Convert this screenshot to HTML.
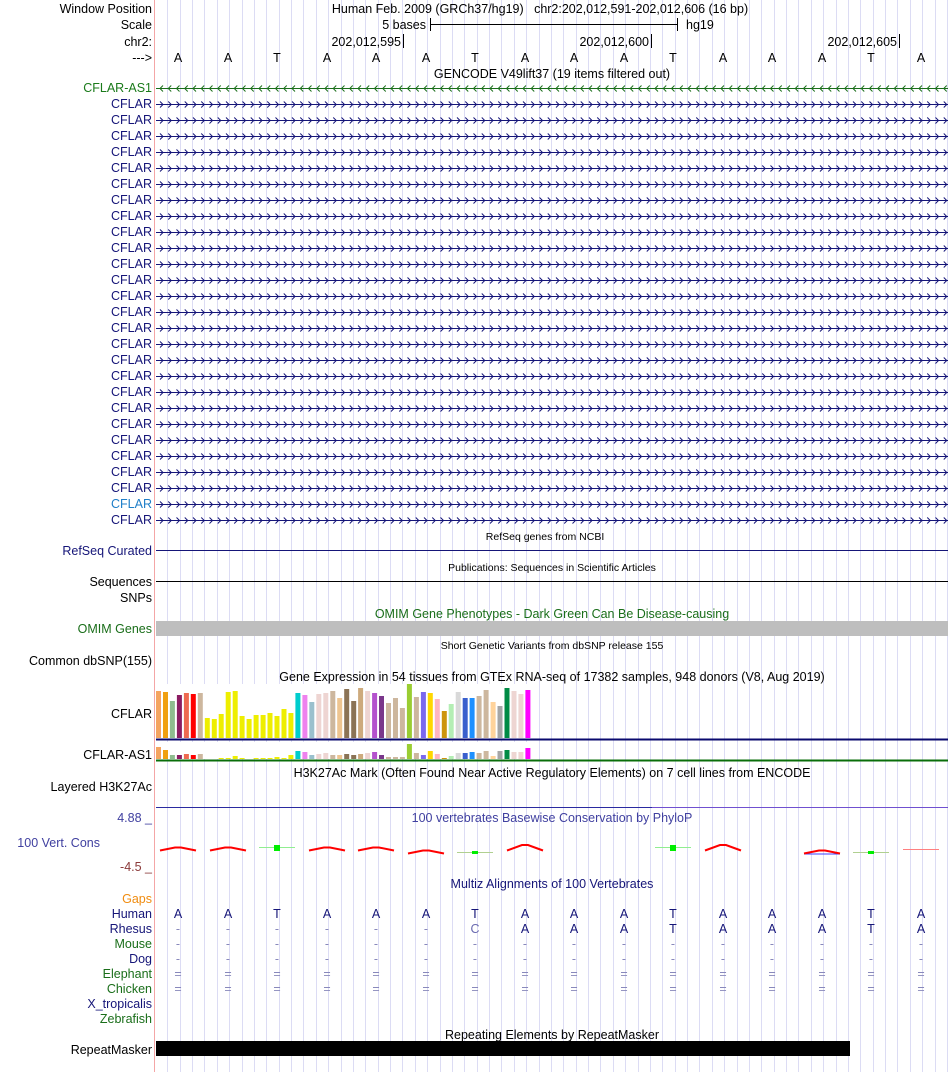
<!DOCTYPE html>
<html><head><meta charset="utf-8"><style>
html,body{margin:0;padding:0;background:#fff;}
svg{display:block;font-family:"Liberation Sans",Arial,sans-serif;}
</style></head><body>
<svg id="s" width="950" height="1072" viewBox="0 0 950 1072" xmlns="http://www.w3.org/2000/svg">
<g id="grid"></g>
<line x1="154.5" y1="0" x2="154.5" y2="1072" stroke="#f4a6a6" stroke-width="1"/>
<g font-size="12.5" fill="#000" text-anchor="end">
<text x="152" y="13">Window Position</text>
<text x="152" y="29">Scale</text>
<text x="152" y="46">chr2:</text>
<text x="152" y="62">---&gt;</text>
</g>
<text x="540" y="13" font-size="12.5" text-anchor="middle">Human Feb. 2009 (GRCh37/hg19)&#160;&#160;&#160;chr2:202,012,591-202,012,606 (16 bp)</text>
<text x="426" y="29" font-size="12.5" text-anchor="end">5 bases</text>
<line x1="430" y1="24.5" x2="677" y2="24.5" stroke="#000"/>
<line x1="430.5" y1="18" x2="430.5" y2="31" stroke="#000"/>
<line x1="677.5" y1="18" x2="677.5" y2="31" stroke="#000"/>
<text x="686" y="29" font-size="12.5">hg19</text>
<g font-size="12.5" text-anchor="end">
<text x="401" y="46">202,012,595</text>
<text x="649" y="46">202,012,600</text>
<text x="897" y="46">202,012,605</text>
</g>
<g stroke="#000"><line x1="403.5" y1="34" x2="403.5" y2="48"/><line x1="651.5" y1="34" x2="651.5" y2="48"/><line x1="899.5" y1="34" x2="899.5" y2="48"/></g>
<g font-size="12.5" text-anchor="middle">
<text x="178" y="62">A</text><text x="228" y="62">A</text><text x="277" y="62">T</text><text x="327" y="62">A</text><text x="376" y="62">A</text><text x="426" y="62">A</text><text x="475" y="62">T</text><text x="525" y="62">A</text><text x="574" y="62">A</text><text x="624" y="62">A</text><text x="673" y="62">T</text><text x="723" y="62">A</text><text x="772" y="62">A</text><text x="822" y="62">A</text><text x="871" y="62">T</text><text x="921" y="62">A</text>
</g>
<text x="552" y="78" font-size="12.5" text-anchor="middle">GENCODE V49lift37 (19 items filtered out)</text>
<g font-size="12.5" text-anchor="end" fill="#151578">
<text x="152" y="92" fill="#1a7a1a">CFLAR-AS1</text>
<text x="152" y="108">CFLAR</text><text x="152" y="124">CFLAR</text><text x="152" y="140">CFLAR</text><text x="152" y="156">CFLAR</text><text x="152" y="172">CFLAR</text><text x="152" y="188">CFLAR</text><text x="152" y="204">CFLAR</text><text x="152" y="220">CFLAR</text><text x="152" y="236">CFLAR</text><text x="152" y="252">CFLAR</text><text x="152" y="268">CFLAR</text><text x="152" y="284">CFLAR</text><text x="152" y="300">CFLAR</text><text x="152" y="316">CFLAR</text><text x="152" y="332">CFLAR</text><text x="152" y="348">CFLAR</text><text x="152" y="364">CFLAR</text><text x="152" y="380">CFLAR</text><text x="152" y="396">CFLAR</text><text x="152" y="412">CFLAR</text><text x="152" y="428">CFLAR</text><text x="152" y="444">CFLAR</text><text x="152" y="460">CFLAR</text><text x="152" y="476">CFLAR</text><text x="152" y="492">CFLAR</text><text x="152" y="508" fill="#1e7ec8">CFLAR</text><text x="152" y="524">CFLAR</text>
</g>
<g id="genes"></g>
<text x="545" y="540" font-size="10.5" text-anchor="middle">RefSeq genes from NCBI</text>
<text x="152" y="555" font-size="12.5" text-anchor="end" fill="#151578">RefSeq Curated</text>
<line x1="156" y1="550.5" x2="948" y2="550.5" stroke="#151578"/>
<text x="552" y="571" font-size="10.5" text-anchor="middle">Publications: Sequences in Scientific Articles</text>
<text x="152" y="586" font-size="12.5" text-anchor="end">Sequences</text>
<line x1="156" y1="581.5" x2="948" y2="581.5" stroke="#000"/>
<text x="152" y="602" font-size="12.5" text-anchor="end">SNPs</text>
<text x="552" y="618" font-size="12.5" text-anchor="middle" fill="#1a6e1a">OMIM Gene Phenotypes - Dark Green Can Be Disease-causing</text>
<text x="152" y="633" font-size="12.5" text-anchor="end" fill="#1a6e1a">OMIM Genes</text>
<rect x="156" y="621" width="792" height="15" fill="#bebebe"/>
<text x="552" y="649" font-size="10.5" text-anchor="middle">Short Genetic Variants from dbSNP release 155</text>
<text x="152" y="665" font-size="12.5" text-anchor="end">Common dbSNP(155)</text>
<text x="552" y="681" font-size="12.5" text-anchor="middle">Gene Expression in 54 tissues from GTEx RNA-seq of 17382 samples, 948 donors (V8, Aug 2019)</text>
<text x="152" y="718" font-size="12.5" text-anchor="end">CFLAR</text>
<text x="152" y="759" font-size="12.5" text-anchor="end">CFLAR-AS1</text>
<rect x="156" y="684" width="380" height="55" fill="#fff"/>
<rect x="156" y="742" width="380" height="17" fill="#fff"/>
<g id="bars"></g>
<line x1="156" y1="739.5" x2="948" y2="739.5" stroke="#0a0a6e" stroke-width="2"/>
<line x1="156" y1="760.5" x2="948" y2="760.5" stroke="#0a6e0a" stroke-width="2"/>
<text x="552" y="777" font-size="12.5" text-anchor="middle">H3K27Ac Mark (Often Found Near Active Regulatory Elements) on 7 cell lines from ENCODE</text>
<text x="152" y="791" font-size="12.5" text-anchor="end">Layered H3K27Ac</text>
<line x1="156" y1="807.5" x2="652" y2="807.5" stroke="#2a2aa0"/>
<line x1="652" y1="807.5" x2="948" y2="807.5" stroke="#7050d0"/>
<text x="552" y="822" font-size="12.5" text-anchor="middle" fill="#4040a0">100 vertebrates Basewise Conservation by PhyloP</text>
<text x="152" y="822" font-size="12.5" text-anchor="end" fill="#4040a0">4.88 _</text>
<text x="100" y="847" font-size="12.5" text-anchor="end" fill="#4040a0">100 Vert. Cons</text>
<text x="152" y="871" font-size="12.5" text-anchor="end" fill="#8b3a3a">-4.5 _</text>
<g id="cons"></g>
<text x="552" y="888" font-size="12.5" text-anchor="middle" fill="#151578">Multiz Alignments of 100 Vertebrates</text>
<g font-size="12.5" text-anchor="end">
<text x="152" y="903" fill="#f08c10">Gaps</text>
<text x="152" y="918" fill="#151578">Human</text>
<text x="152" y="933" fill="#151578">Rhesus</text>
<text x="152" y="948" fill="#1a6e1a">Mouse</text>
<text x="152" y="963" fill="#151578">Dog</text>
<text x="152" y="978" fill="#1a6e1a">Elephant</text>
<text x="152" y="993" fill="#1a6e1a">Chicken</text>
<text x="152" y="1008" fill="#151578">X_tropicalis</text>
<text x="152" y="1023" fill="#1a6e1a">Zebrafish</text>
</g>
<g font-size="12.5" text-anchor="middle" fill="#151578">
<text x="178" y="918">A</text><text x="228" y="918">A</text><text x="277" y="918">T</text><text x="327" y="918">A</text><text x="376" y="918">A</text><text x="426" y="918">A</text><text x="475" y="918">T</text><text x="525" y="918">A</text><text x="574" y="918">A</text><text x="624" y="918">A</text><text x="673" y="918">T</text><text x="723" y="918">A</text><text x="772" y="918">A</text><text x="822" y="918">A</text><text x="871" y="918">T</text><text x="921" y="918">A</text>
</g>
<g font-size="12.5" text-anchor="middle" fill="#151578">
<text x="178" y="933" fill="#8888bb">-</text><text x="228" y="933" fill="#8888bb">-</text><text x="277" y="933" fill="#8888bb">-</text><text x="327" y="933" fill="#8888bb">-</text><text x="376" y="933" fill="#8888bb">-</text><text x="426" y="933" fill="#8888bb">-</text><text x="475" y="933" fill="#6a6ab0">C</text><text x="525" y="933">A</text><text x="574" y="933">A</text><text x="624" y="933">A</text><text x="673" y="933">T</text><text x="723" y="933">A</text><text x="772" y="933">A</text><text x="822" y="933">A</text><text x="871" y="933">T</text><text x="921" y="933">A</text>
</g>
<g font-size="12.5" text-anchor="middle" fill="#8888bb">
<text x="178" y="948">-</text><text x="228" y="948">-</text><text x="277" y="948">-</text><text x="327" y="948">-</text><text x="376" y="948">-</text><text x="426" y="948">-</text><text x="475" y="948">-</text><text x="525" y="948">-</text><text x="574" y="948">-</text><text x="624" y="948">-</text><text x="673" y="948">-</text><text x="723" y="948">-</text><text x="772" y="948">-</text><text x="822" y="948">-</text><text x="871" y="948">-</text><text x="921" y="948">-</text>
<text x="178" y="963">-</text><text x="228" y="963">-</text><text x="277" y="963">-</text><text x="327" y="963">-</text><text x="376" y="963">-</text><text x="426" y="963">-</text><text x="475" y="963">-</text><text x="525" y="963">-</text><text x="574" y="963">-</text><text x="624" y="963">-</text><text x="673" y="963">-</text><text x="723" y="963">-</text><text x="772" y="963">-</text><text x="822" y="963">-</text><text x="871" y="963">-</text><text x="921" y="963">-</text>
<text x="178" y="978">=</text><text x="228" y="978">=</text><text x="277" y="978">=</text><text x="327" y="978">=</text><text x="376" y="978">=</text><text x="426" y="978">=</text><text x="475" y="978">=</text><text x="525" y="978">=</text><text x="574" y="978">=</text><text x="624" y="978">=</text><text x="673" y="978">=</text><text x="723" y="978">=</text><text x="772" y="978">=</text><text x="822" y="978">=</text><text x="871" y="978">=</text><text x="921" y="978">=</text>
<text x="178" y="993">=</text><text x="228" y="993">=</text><text x="277" y="993">=</text><text x="327" y="993">=</text><text x="376" y="993">=</text><text x="426" y="993">=</text><text x="475" y="993">=</text><text x="525" y="993">=</text><text x="574" y="993">=</text><text x="624" y="993">=</text><text x="673" y="993">=</text><text x="723" y="993">=</text><text x="772" y="993">=</text><text x="822" y="993">=</text><text x="871" y="993">=</text><text x="921" y="993">=</text>
</g>
<text x="552" y="1039" font-size="12.5" text-anchor="middle">Repeating Elements by RepeatMasker</text>
<text x="152" y="1054" font-size="12.5" text-anchor="end">RepeatMasker</text>
<rect x="156" y="1041" width="694" height="15" fill="#000"/>
</svg>
<script>
(function(){
var NS="http://www.w3.org/2000/svg";
function el(p,t,a){var e=document.createElementNS(NS,t);for(var k in a)e.setAttribute(k,a[k]);document.getElementById(p).appendChild(e);return e;}
for(var x=167.3;x<950;x+=12.375){el("grid","line",{x1:Math.round(x)+.5,y1:0,x2:Math.round(x)+.5,y2:1072,stroke:"#dcdcf4","stroke-width":1});}
for(var r=0;r<28;r++){var y=88+r*16;var c=r==0?"#1a6e1a":"#151578";
el("genes","line",{x1:156,y1:y+.5,x2:948,y2:y+.5,stroke:c});
var d="";for(var x=160;x<946;x+=8.25){if(r==0)d+="M"+(x+3)+" "+(y-2.5)+"L"+x+" "+(y+.5)+"L"+(x+3)+" "+(y+3.5);else d+="M"+x+" "+(y-2.5)+"L"+(x+3)+" "+(y+.5)+"L"+x+" "+(y+3.5);}
el("genes","path",{d:d,fill:"none",stroke:c,"stroke-width":1});}
var cols=["#f4a460","#f0a010","#8fbc8f","#8b1c62","#ee6a50","#ff0000","#cdb79e","#eeee00","#eeee00","#eeee00","#eeee00","#eeee00","#eeee00","#eeee00","#eeee00","#eeee00","#eeee00","#eeee00","#eeee00","#eeee00","#00cdcd","#ee82ee","#9ac0cd","#eed5d2","#eed5d2","#cdb79e","#eec591","#8b7355","#8b7355","#cdaa7d","#eed5d2","#b452cd","#7a378b","#cdb79e","#cdb79e","#cdb79e","#9acd32","#cdb79e","#7b68ee","#ffd700","#ffb6c1","#cd950c","#b4eeb4","#d9d9d9","#3a5fcd","#1e90ff","#cdb79e","#cdb79e","#ffd39b","#a6a6a6","#008b45","#eed5d2","#eed5d2","#ff00ff"];
var tops=[33,36,63,45,39,42,39,114,117,102,36,33,108,117,105,105,99,108,87,99,39,45,66,42,39,33,54,27,63,24,33,39,48,69,54,84,12,51,36,39,57,93,72,36,54,54,48,30,66,78,24,33,42,30];
var sm=[12,9,4,4,5,4,5,0,0,1,1,3,1,0,1,1,1,2,1,4,8,7,4,5,6,4,4,5,4,5,6,7,4,2,2,2,15,6,4,8,5,1,3,6,6,7,6,8,3,8,9,7,7,11];
for(var i=0;i<54;i++){var x=156+i*6.97;var t=680+tops[i]/3;
el("bars","rect",{x:x.toFixed(1),y:t.toFixed(1),width:5,height:(738-t).toFixed(1),fill:cols[i]});
var h=sm[i];if(h>0)el("bars","rect",{x:x.toFixed(1),y:759-h,width:5,height:h,fill:cols[i]});}
var cen=[178,228,277,327,376,426,475,525,574,624,673,723,772,822,871,921];
var typ={0:"r",1:"r",2:"g",3:"r",4:"r",5:"rl",6:"gs",7:"rt",10:"g",11:"rt",13:"rb",14:"gs",15:"f"};
for(var k in typ){var c=cen[k],t=typ[k];
if(t[0]=="r"){var y0=850,pk=2.5;if(t=="rl"||t=="rb")y0=853;if(t=="rt")pk=5;
if(t=="rb")el("cons","line",{x1:c-18,y1:y0+1,x2:c+18,y2:y0+1,stroke:"#4040ff","stroke-width":1});
el("cons","path",{d:"M"+(c-18)+" "+(y0+0.5)+"L"+(c-3)+" "+(y0-pk)+"L"+(c+3)+" "+(y0-pk)+"L"+(c+18)+" "+(y0+0.5),fill:"none",stroke:"#ff0000","stroke-width":2});}
else if(t=="g"){el("cons","line",{x1:c-18,y1:847.5,x2:c+18,y2:847.5,stroke:"#90ee90"});el("cons","rect",{x:c-3,y:845,width:6,height:6,fill:"#00ee00"});}
else if(t=="gs"){el("cons","line",{x1:c-18,y1:852.5,x2:c+18,y2:852.5,stroke:"#b0d090"});el("cons","rect",{x:c-3,y:851,width:6,height:3,fill:"#00ee00"});}
else{el("cons","line",{x1:c-18,y1:849.5,x2:c+18,y2:849.5,stroke:"#ff8080"});}}
})();
</script>
</body></html>
